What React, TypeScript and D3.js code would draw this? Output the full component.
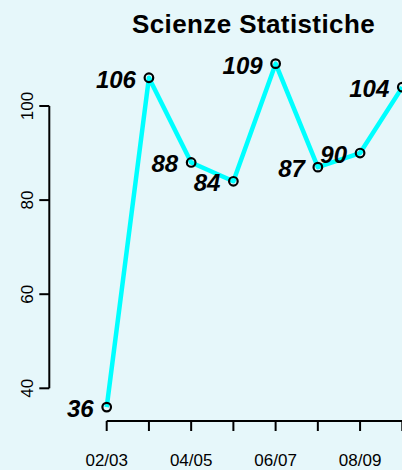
import React from "react";
import * as d3 from "d3";

const categories = ["02/03", "03/04", "04/05", "05/06", "06/07", "07/08", "08/09", "09/10"];
const values = [36, 106, 88, 84, 109, 87, 90, 104];
const yTicks = [40, 60, 80, 100];
const title = "Scienze Statistiche";

const W = 402;
const H = 470;
const FONT = "'Liberation Sans', Arial, Helvetica, sans-serif";

export default function App() {
  const x = d3
    .scaleLinear()
    .domain([0, categories.length - 1])
    .range([106.7, 402.3]);
  const y = d3.scaleLinear().domain([40, 100]).range([388.3, 106]);

  const line = d3
    .line<number>()
    .x((_, i) => x(i))
    .y((d) => y(d));

  const axisY = 421;
  const axisX = 49.3;

  return (
    <svg
      width={W}
      height={H}
      style={{ position: "fixed", left: 0, top: 0, background: "#e6f7fa" }}
      fontFamily={FONT}
    >
      <rect x={0} y={0} width={W} height={H} fill="#e6f7fa" />
      <text
        x={253.5}
        y={33.3}
        textAnchor="middle"
        fontSize={26}
        fontWeight="bold"
        letterSpacing={0.4}
        fill="#000"
      >
        {title}
      </text>

      {/* Y axis */}
      <line x1={axisX} x2={axisX} y1={y(40)} y2={y(100)} stroke="#000" strokeWidth={2} />
      {yTicks.map((t) => (
        <g key={t}>
          <line x1={axisX - 10} x2={axisX} y1={y(t)} y2={y(t)} stroke="#000" strokeWidth={2} />
          <text
            transform={`translate(33,${y(t)}) rotate(-90)`}
            textAnchor="middle"
            fontSize={17}
            fill="#000"
          >
            {t}
          </text>
        </g>
      ))}

      {/* X axis */}
      <line x1={x(0)} x2={W + 20} y1={axisY} y2={axisY} stroke="#000" strokeWidth={2} />
      {categories.map((c, i) => (
        <g key={c}>
          <line x1={x(i)} x2={x(i)} y1={axisY} y2={axisY + 10} stroke="#000" strokeWidth={2} />
          {i % 2 === 0 && (
            <text x={x(i)} y={466} textAnchor="middle" fontSize={17} fill="#000">
              {c}
            </text>
          )}
        </g>
      ))}

      {/* Line */}
      <path d={line(values) || ""} fill="none" stroke="#00ffff" strokeWidth={4.5} strokeLinejoin="round" />
      {values.map((v, i) => (
        <circle key={i} cx={x(i)} cy={y(v)} r={4.3} fill="none" stroke="#000" strokeWidth={2.2} />
      ))}
      {values.map((v, i) => (
        <text
          key={"l" + i}
          x={x(i) - 13}
          y={y(v) + 10}
          textAnchor="end"
          fontSize={24}
          fontWeight="bold"
          fontStyle="italic"
          fill="#000"
        >
          {v}
        </text>
      ))}
    </svg>
  );
}
